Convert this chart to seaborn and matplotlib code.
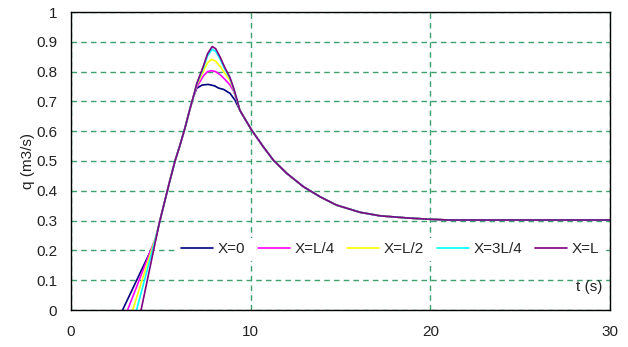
import matplotlib
matplotlib.use("Agg")
import matplotlib.pyplot as plt
import seaborn as sns
import pandas as pd

# ---- data ----
series_names = ["X=0", "X=L/4", "X=L/2", "X=3L/4", "X=L"]
series_colors = ["#000080", "#FF00FF", "#FFFF00", "#00FFFF", "#800080"]

# shared rising part (all sections coincide)
t_rise = [4.95, 5.51, 5.79, 6.05, 6.34, 6.60]
q_rise = [0.30, 0.436, 0.50, 0.55, 0.61, 0.67]

# shared recession tail
t_tail = [9.40, 10.05, 10.70, 11.26, 12.00, 12.93, 13.86, 14.78,
          16.08, 17.20, 18.68, 19.79, 21.0, 25.0, 30.0]
q_tail = [0.670, 0.604, 0.548, 0.503, 0.459, 0.414, 0.380, 0.352,
          0.328, 0.316, 0.309, 0.305, 0.302, 0.302, 0.302]

# section-specific start and peak parts
t_x0_start = [2.87, 4.67]
q_x0_start = [0.0, 0.229]
t_x0_peak = [6.81, 7.00, 7.30, 7.64, 8.00, 8.20, 8.50, 8.85, 9.12]
q_x0_peak = [0.715, 0.744, 0.755, 0.757, 0.752, 0.745, 0.740, 0.727, 0.705]

t_l4_start = [3.15, 4.74]
q_l4_start = [0.0, 0.247]
t_l4_peak = [6.81, 7.00, 7.36, 7.60, 7.80, 8.05, 8.29, 8.55, 8.85, 9.05, 9.22]
q_l4_peak = [0.716, 0.748, 0.785, 0.800, 0.803, 0.800, 0.790, 0.775, 0.755, 0.735, 0.705]

t_l2_start = [3.43, 4.78]
q_l2_start = [0.0, 0.257]
t_l2_peak = [6.81, 7.00, 7.36, 7.60, 7.83, 8.05, 8.29, 8.55, 8.85, 9.05, 9.22]
q_l2_peak = [0.716, 0.755, 0.800, 0.830, 0.841, 0.835, 0.818, 0.795, 0.770, 0.740, 0.707]

t_3l4_start = [3.65, 4.82]
q_3l4_start = [0.0, 0.266]
t_3l4_peak = [6.81, 7.00, 7.36, 7.60, 7.86, 8.05, 8.29, 8.55, 8.85, 9.05, 9.22]
q_3l4_peak = [0.716, 0.758, 0.812, 0.853, 0.875, 0.868, 0.843, 0.810, 0.777, 0.743, 0.708]

t_l_start = [3.90, 4.86]
q_l_start = [0.0, 0.276]
t_l_peak = [6.81, 7.00, 7.36, 7.60, 7.86, 8.05, 8.29, 8.55, 8.85, 9.05, 9.22]
q_l_peak = [0.716, 0.760, 0.817, 0.860, 0.884, 0.877, 0.850, 0.815, 0.780, 0.745, 0.710]

x_ticks = [0, 10, 20, 30]
y_ticks = [0, 0.1, 0.2, 0.3, 0.4, 0.5, 0.6, 0.7, 0.8, 0.9, 1]
y_ticklabels = ["0", "0.1", "0.2", "0.3", "0.4", "0.5", "0.6", "0.7", "0.8", "0.9", "1"]

starts_t = [t_x0_start, t_l4_start, t_l2_start, t_3l4_start, t_l_start]
starts_q = [q_x0_start, q_l4_start, q_l2_start, q_3l4_start, q_l_start]
peaks_t = [t_x0_peak, t_l4_peak, t_l2_peak, t_3l4_peak, t_l_peak]
peaks_q = [q_x0_peak, q_l4_peak, q_l2_peak, q_3l4_peak, q_l_peak]

rows = []
for name, ts, qs, tp, qp in zip(series_names, starts_t, starts_q, peaks_t, peaks_q):
    tt = ts + t_rise + tp + t_tail
    qq = qs + q_rise + qp + q_tail
    for a, b in zip(tt, qq):
        rows.append({"t": a, "q": b, "section": name})
df = pd.DataFrame(rows)

# ---- plotting ----
sns.set_style("white")
plt.rcParams["font.family"] = ["Liberation Sans", "DejaVu Sans"]

FS = 11
fig = plt.figure(figsize=(6.28, 3.47), dpi=100)
ax = fig.add_axes([71 / 628, 37 / 347, 539 / 628, 298 / 347])

sns.lineplot(data=df, x="t", y="q", hue="section", hue_order=series_names,
             palette=dict(zip(series_names, series_colors)), sort=False,
             estimator=None, linewidth=1.2, ax=ax, legend=True)

ax.set_xlim(0, 30)
ax.set_ylim(0, 1)
ax.set_xticks(x_ticks)
ax.set_xticklabels([str(v) for v in x_ticks])
ax.set_yticks(y_ticks)
ax.set_yticklabels(y_ticklabels)

ax.grid(True, color="#3f9f6f", linestyle=(0, (4, 3)), linewidth=1.0)
ax.set_axisbelow(True)
for s in ax.spines.values():
    s.set_color("black")
    s.set_linewidth(1.0)

ax.tick_params(axis="both", direction="in", length=4, width=1, color="black",
               labelsize=FS, labelcolor="#222222")
ax.tick_params(axis="x", pad=11)
ax.tick_params(axis="y", pad=10)

ax.set_xlabel("")
ax.set_ylabel("q (m3/s)", fontsize=FS, color="#222222", labelpad=1)
ax.text(0.985, 0.077, "t (s)", transform=ax.transAxes, ha="right", va="center",
        fontsize=FS, color="#222222")

handles, labels = ax.get_legend_handles_labels()
leg = ax.legend(handles, labels, ncol=5, loc="center right",
                bbox_to_anchor=(0.988, 0.204), frameon=True, facecolor="white",
                edgecolor="none", framealpha=1, fancybox=False, fontsize=FS,
                handlelength=2.1, handletextpad=0.28, columnspacing=0.85,
                borderpad=0.3, borderaxespad=0)
leg.set_zorder(1.8)
for line in leg.get_lines():
    line.set_linewidth(1.2)

fig.savefig("out.png", dpi=100)
